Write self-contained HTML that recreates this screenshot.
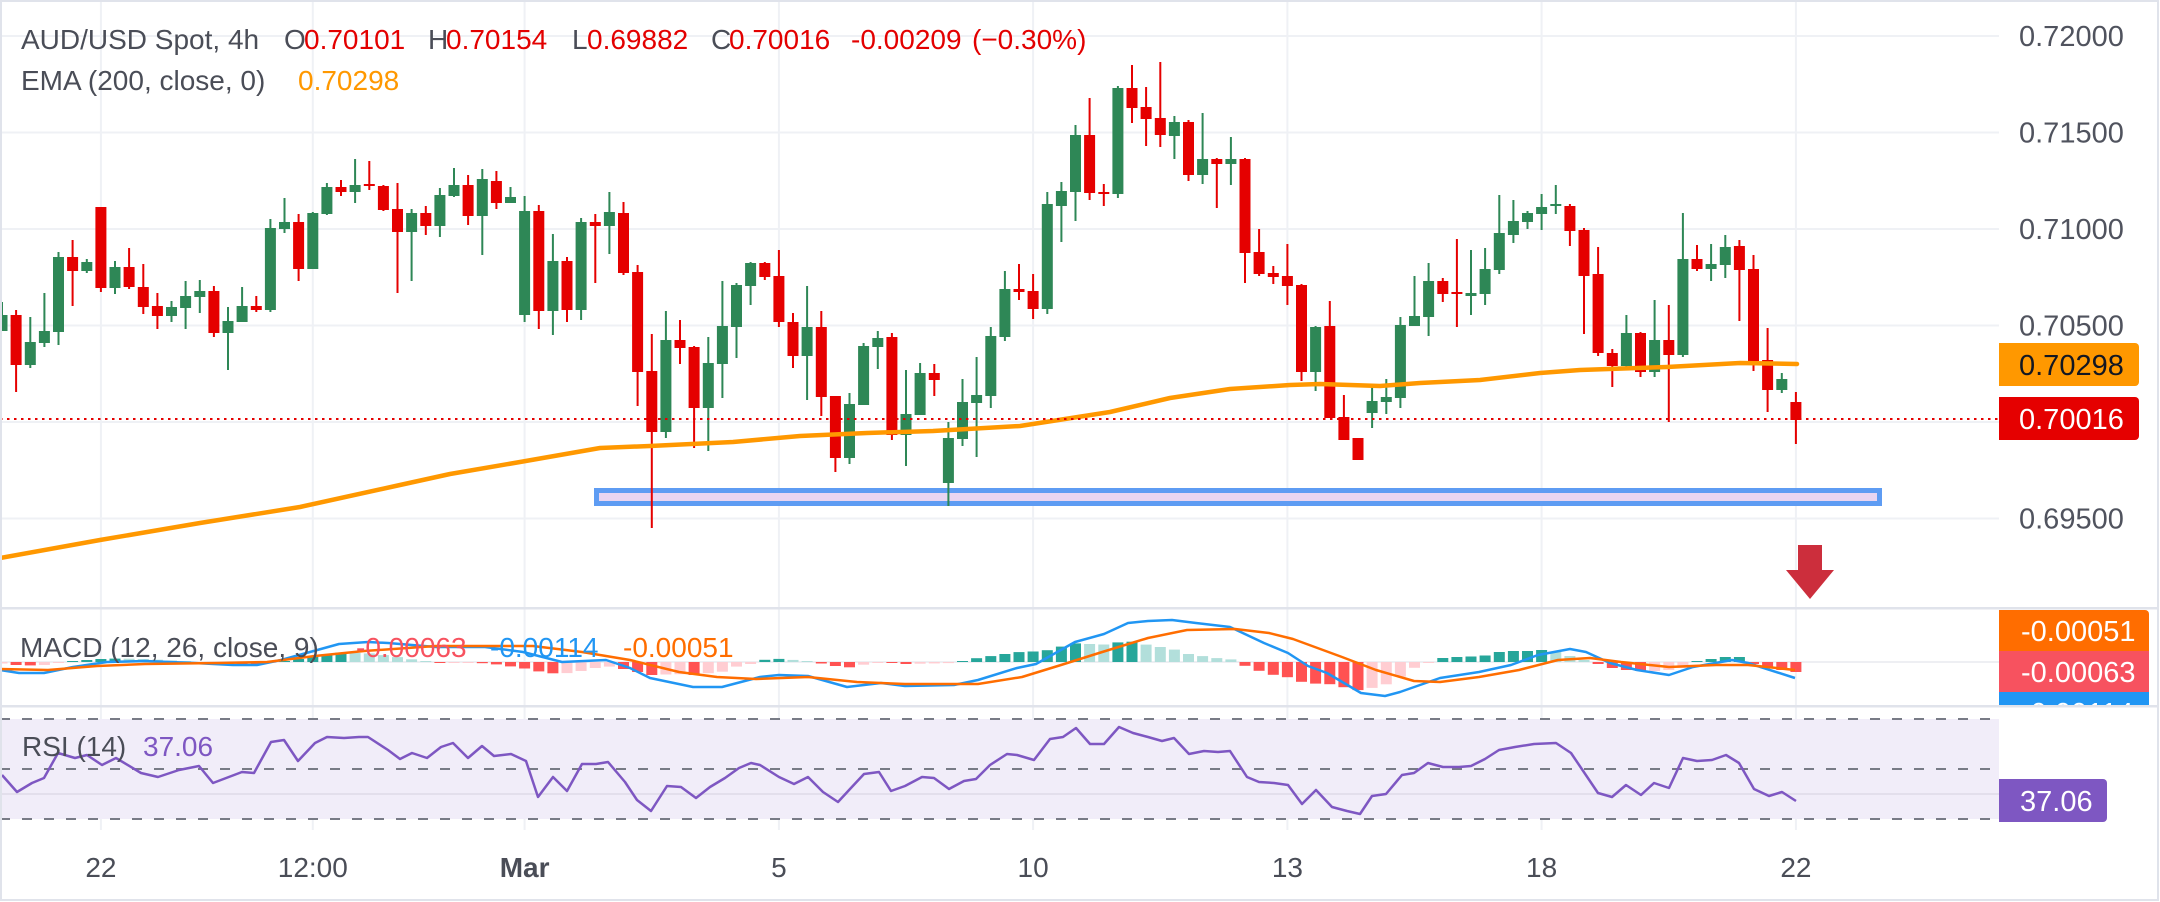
<!DOCTYPE html>
<html><head><meta charset="utf-8"><style>
html,body{margin:0;padding:0;background:#fff;overflow:hidden}
svg{display:block}
</style></head><body>
<svg width="2160" height="902" viewBox="0 0 2160 902" xmlns="http://www.w3.org/2000/svg" font-family="'Liberation Sans', Arial, sans-serif" font-size="28">
<defs>
<clipPath id="mainc"><rect x="0" y="2" width="1999" height="605"/></clipPath>
<clipPath id="macdc"><rect x="0" y="609" width="1999" height="96"/></clipPath>
<clipPath id="macdl"><rect x="1990" y="609" width="170" height="96"/></clipPath>
</defs>
<rect width="2160" height="902" fill="#fff"/>
<!-- vertical grid -->
<g stroke="#eff1f5" stroke-width="2">
<line x1="100.9" y1="2" x2="100.9" y2="830"/><line x1="312.8" y1="2" x2="312.8" y2="830"/><line x1="524.6" y1="2" x2="524.6" y2="830"/><line x1="778.9" y1="2" x2="778.9" y2="830"/><line x1="1033.1" y1="2" x2="1033.1" y2="830"/><line x1="1287.4" y1="2" x2="1287.4" y2="830"/><line x1="1541.6" y1="2" x2="1541.6" y2="830"/><line x1="1795.9" y1="2" x2="1795.9" y2="830"/>
</g>
<!-- horizontal grid main -->
<g stroke="#eff1f5" stroke-width="2">
<line x1="0" y1="36" x2="1999" y2="36"/><line x1="0" y1="132.5" x2="1999" y2="132.5"/><line x1="0" y1="229" x2="1999" y2="229"/><line x1="0" y1="325.5" x2="1999" y2="325.5"/><line x1="0" y1="422" x2="1999" y2="422"/><line x1="0" y1="518.5" x2="1999" y2="518.5"/>
</g>
<g clip-path="url(#mainc)">
<!-- support rectangle -->
<rect x="596.5" y="490.5" width="1283" height="13" fill="#e9d5f1" stroke="#5e9cf3" stroke-width="5"/>
<!-- red wicks -->
<path stroke="#e50000" stroke-width="2" fill="none" d="M16.1 310V392 M72.6 240V306 M100.9 207V292 M129.1 248V289 M143.3 264V314 M157.4 293V329 M213.9 286V337 M256.3 296V312 M298.6 214V281 M341 180V196 M369.3 161V190 M383.4 185V211 M397.5 183V293 M425.8 206V235 M468.1 175V225 M496.4 171V209 M538.8 205V329 M567 257V322 M595.3 214V283 M623.5 202V275 M637.6 265V406 M651.8 334V528 M680 320V364 M694.1 346V448 M764.8 262V280 M778.9 250V327 M793 313V368 M821.3 311V416 M835.4 396V472 M891.9 333V440 M934.3 364V396 M1019 264V300 M1033.1 274V319 M1089.6 98V200 M1103.8 184V206 M1132 65V123 M1146.1 87V146 M1160.3 62V147 M1188.5 120V181 M1216.8 158V208 M1245 158V283 M1259.1 229V276 M1273.3 266V284 M1287.4 244V305 M1301.5 284V381 M1329.8 301V418 M1343.9 395V440 M1358 438V460 M1442.8 278V302 M1456.9 239V327 M1569.9 204V246 M1584 228V334 M1598.1 247V356 M1612.3 349V387 M1640.5 332V377 M1668.8 305V422 M1697 245V271 M1739.4 240V321 M1753.5 255V371 M1767.6 328V412 M1795.9 392V444"/>
<!-- green wicks -->
<path stroke="#2e8756" stroke-width="2" fill="none" d="M2 302V331 M30.3 317V368 M44.4 293V347 M58.5 252V345 M86.8 259V273 M115 261V294 M171.5 301V322 M185.6 281V329 M199.8 280V313 M228 307V370 M242.1 287V322 M270.4 219V312 M284.5 198V233 M312.8 212V269 M326.9 183V215 M355.1 159V203 M411.6 209V281 M439.9 188V237 M454 168V197 M482.3 169V255 M510.5 187V203 M524.6 196V322 M552.9 234V335 M581.1 218V320 M609.4 192V254 M665.9 311V438 M708.3 337V451 M722.4 281V398 M736.5 283V358 M750.6 262V305 M807.1 286V400 M849.5 393V464 M863.6 343V405 M877.8 331V369 M906 370V466 M920.1 363V415 M948.4 422V506 M962.5 379V446 M976.6 357V457 M990.8 327V408 M1004.9 271V341 M1047.3 192V314 M1061.4 182V242 M1075.5 125V221 M1117.9 86V198 M1174.4 116V159 M1202.6 113V184 M1230.9 137V185 M1315.6 326V391 M1372.1 385V428 M1386.3 379V414 M1400.4 317V408 M1414.5 276V326 M1428.6 263V336 M1471 250V315 M1485.1 248V305 M1499.3 195V274 M1513.4 200V243 M1527.5 211V229 M1541.6 194V230 M1555.8 185V214 M1626.4 315V370 M1654.6 300V377 M1682.9 213V357 M1711.1 244V281 M1725.3 235V278 M1781.8 373V393"/>
<!-- red bodies -->
<g fill="#e50000">
<rect x="10.6" y="315" width="11" height="50"/><rect x="67.1" y="257" width="11" height="14"/><rect x="95.4" y="207" width="11" height="81"/><rect x="123.6" y="267" width="11" height="20"/><rect x="137.8" y="287" width="11" height="20"/><rect x="151.9" y="306" width="11" height="10"/><rect x="208.4" y="291" width="11" height="42"/><rect x="250.8" y="306" width="11" height="4"/><rect x="293.1" y="222" width="11" height="47"/><rect x="335.5" y="187" width="11" height="5"/><rect x="363.8" y="184" width="11" height="2"/><rect x="377.9" y="186" width="11" height="24"/><rect x="392" y="209" width="11" height="23"/><rect x="420.3" y="213" width="11" height="13"/><rect x="462.6" y="185" width="11" height="31"/><rect x="490.9" y="181" width="11" height="22"/><rect x="533.3" y="211" width="11" height="100"/><rect x="561.5" y="261" width="11" height="49"/><rect x="589.8" y="222" width="11" height="4"/><rect x="618" y="213" width="11" height="60"/><rect x="632.1" y="272" width="11" height="100"/><rect x="646.3" y="371" width="11" height="61"/><rect x="674.5" y="340" width="11" height="8"/><rect x="688.6" y="347" width="11" height="61"/><rect x="759.3" y="263" width="11" height="14"/><rect x="773.4" y="276" width="11" height="46"/><rect x="787.5" y="322" width="11" height="34"/><rect x="815.8" y="327" width="11" height="70"/><rect x="829.9" y="396" width="11" height="62"/><rect x="886.4" y="337" width="11" height="98"/><rect x="928.8" y="373" width="11" height="7"/><rect x="1013.5" y="289" width="11" height="3"/><rect x="1027.6" y="291" width="11" height="18"/><rect x="1084.1" y="135" width="11" height="58"/><rect x="1098.3" y="192" width="11" height="2"/><rect x="1126.5" y="88" width="11" height="20"/><rect x="1140.6" y="107" width="11" height="12"/><rect x="1154.8" y="118" width="11" height="17"/><rect x="1183" y="122" width="11" height="53"/><rect x="1211.3" y="159" width="11" height="5"/><rect x="1239.5" y="159" width="11" height="94"/><rect x="1253.6" y="252" width="11" height="22"/><rect x="1267.8" y="273" width="11" height="4"/><rect x="1281.9" y="276" width="11" height="10"/><rect x="1296" y="285" width="11" height="87"/><rect x="1324.3" y="326" width="11" height="92"/><rect x="1338.4" y="417" width="11" height="23"/><rect x="1352.5" y="438" width="11" height="22"/><rect x="1437.3" y="281" width="11" height="13"/><rect x="1451.4" y="292" width="11" height="2"/><rect x="1564.4" y="206" width="11" height="25"/><rect x="1578.5" y="230" width="11" height="46"/><rect x="1592.6" y="274" width="11" height="79"/><rect x="1606.8" y="353" width="11" height="13"/><rect x="1635" y="333" width="11" height="39"/><rect x="1663.3" y="340" width="11" height="15"/><rect x="1691.5" y="259" width="11" height="10"/><rect x="1733.9" y="246" width="11" height="24"/><rect x="1748" y="269" width="11" height="92"/><rect x="1762.1" y="360" width="11" height="30"/><rect x="1790.4" y="402" width="11" height="18"/>
</g>
<!-- green bodies -->
<g fill="#2e8756">
<rect x="-3.5" y="315" width="11" height="16"/><rect x="24.8" y="342" width="11" height="23"/><rect x="38.9" y="331" width="11" height="12"/><rect x="53" y="257" width="11" height="75"/><rect x="81.3" y="262" width="11" height="9"/><rect x="109.5" y="267" width="11" height="21"/><rect x="166" y="307" width="11" height="9"/><rect x="180.1" y="296" width="11" height="12"/><rect x="194.3" y="291" width="11" height="6"/><rect x="222.5" y="321" width="11" height="12"/><rect x="236.6" y="306" width="11" height="16"/><rect x="264.9" y="228" width="11" height="82"/><rect x="279" y="222" width="11" height="7"/><rect x="307.3" y="213" width="11" height="56"/><rect x="321.4" y="187" width="11" height="27"/><rect x="349.6" y="185" width="11" height="7"/><rect x="406.1" y="213" width="11" height="19"/><rect x="434.4" y="195" width="11" height="31"/><rect x="448.5" y="185" width="11" height="11"/><rect x="476.8" y="179" width="11" height="37"/><rect x="505" y="197" width="11" height="6"/><rect x="519.1" y="211" width="11" height="104"/><rect x="547.4" y="261" width="11" height="50"/><rect x="575.6" y="222" width="11" height="88"/><rect x="603.9" y="212" width="11" height="14"/><rect x="660.4" y="340" width="11" height="92"/><rect x="702.8" y="363" width="11" height="45"/><rect x="716.9" y="326" width="11" height="38"/><rect x="731" y="285" width="11" height="42"/><rect x="745.1" y="263" width="11" height="23"/><rect x="801.6" y="327" width="11" height="29"/><rect x="844" y="404" width="11" height="54"/><rect x="858.1" y="346" width="11" height="59"/><rect x="872.3" y="338" width="11" height="9"/><rect x="900.5" y="414" width="11" height="21"/><rect x="914.6" y="373" width="11" height="42"/><rect x="942.9" y="438" width="11" height="45"/><rect x="957" y="402" width="11" height="37"/><rect x="971.1" y="395" width="11" height="8"/><rect x="985.3" y="336" width="11" height="60"/><rect x="999.4" y="289" width="11" height="48"/><rect x="1041.8" y="204" width="11" height="105"/><rect x="1055.9" y="191" width="11" height="15"/><rect x="1070" y="135" width="11" height="57"/><rect x="1112.4" y="88" width="11" height="106"/><rect x="1168.9" y="122" width="11" height="14"/><rect x="1197.1" y="159" width="11" height="16"/><rect x="1225.4" y="159" width="11" height="5"/><rect x="1310.1" y="327" width="11" height="45"/><rect x="1366.6" y="401" width="11" height="12"/><rect x="1380.8" y="397" width="11" height="5"/><rect x="1394.9" y="325" width="11" height="73"/><rect x="1409" y="316" width="11" height="10"/><rect x="1423.1" y="281" width="11" height="36"/><rect x="1465.5" y="293" width="11" height="3"/><rect x="1479.6" y="269" width="11" height="25"/><rect x="1493.8" y="233" width="11" height="37"/><rect x="1507.9" y="221" width="11" height="14"/><rect x="1522" y="213" width="11" height="9"/><rect x="1536.1" y="207" width="11" height="7"/><rect x="1550.3" y="204" width="11" height="2"/><rect x="1620.9" y="333" width="11" height="33"/><rect x="1649.1" y="340" width="11" height="32"/><rect x="1677.4" y="259" width="11" height="96"/><rect x="1705.6" y="264" width="11" height="5"/><rect x="1719.8" y="247" width="11" height="18"/><rect x="1776.3" y="379" width="11" height="11"/>
</g>
<!-- EMA 200 -->
<polyline fill="none" stroke="#ff9800" stroke-width="4.5" stroke-linejoin="round" stroke-linecap="round" points="0,558 100,540 200,523 300,507 400,485 450,474 520,462 600,448 650,446 733,442 800,436 867,433 933,431 1020,426 1110,412 1170,398 1230,389 1290,385 1320,384 1380,386 1420,383 1480,380 1540,373 1580,370 1667,367 1740,363 1797,364"/>
<!-- last price dotted line -->
<line x1="0" y1="419" x2="1999" y2="419" stroke="#e50000" stroke-width="2" stroke-dasharray="2.5 4.5"/>
<!-- down arrow -->
<polygon points="1798,545 1822,545 1822,570 1834,570 1810,599 1786,570 1798,570" fill="#cc2e3c"/>
</g>

<!-- header legend -->
<g font-size="28">
<text x="21" y="49" fill="#4a4d57">AUD/USD Spot, 4h</text>
<text x="284" y="49" fill="#4a4d57">O</text><text x="304" y="49" fill="#e30000">0.70101</text>
<text x="428" y="49" fill="#4a4d57">H</text><text x="446" y="49" fill="#e30000">0.70154</text>
<text x="572" y="49" fill="#4a4d57">L</text><text x="587" y="49" fill="#e30000">0.69882</text>
<text x="711" y="49" fill="#4a4d57">C</text><text x="729" y="49" fill="#e30000">0.70016</text>
<text x="851" y="49" fill="#e30000">-0.00209</text><text x="972" y="49" fill="#e30000">(−0.30%)</text>
<text x="21" y="90" fill="#4a4d57">EMA (200, close, 0)</text><text x="298" y="90" fill="#ff9800">0.70298</text>
</g>

<!-- price axis labels -->
<g font-size="29" fill="#50535e">
<text x="2019" y="46">0.72000</text>
<text x="2019" y="142.5">0.71500</text>
<text x="2019" y="239">0.71000</text>
<text x="2019" y="335.5">0.70500</text>
<text x="2019" y="528.5">0.69500</text>
</g>
<path d="M1999 343H2135a4 4 0 0 1 4 4V382a4 4 0 0 1-4 4H1999Z" fill="#ff9800"/>
<text x="2019" y="375" font-size="29" fill="#131722">0.70298</text>
<path d="M1999 397H2135a4 4 0 0 1 4 4V436a4 4 0 0 1-4 4H1999Z" fill="#e50000"/>
<text x="2019" y="429" font-size="29" fill="#ffffff">0.70016</text>

<!-- pane separators -->
<rect x="0" y="607" width="2158" height="2.5" fill="#e0e3eb"/>
<rect x="0" y="705" width="2158" height="2.5" fill="#e0e3eb"/>

<!-- MACD pane -->
<line x1="0" y1="662" x2="1999" y2="662" stroke="#eeeff3" stroke-width="2"/>
<g clip-path="url(#macdc)">
<g fill="#26a69a">
<rect x="67.1" y="661" width="11" height="1"/><rect x="81.3" y="660" width="11" height="2"/><rect x="95.4" y="659" width="11" height="3"/><rect x="109.5" y="658.6" width="11" height="3.4"/><rect x="279" y="661" width="11" height="1"/><rect x="293.1" y="659" width="11" height="3"/><rect x="307.3" y="657" width="11" height="5"/><rect x="321.4" y="654.5" width="11" height="7.5"/><rect x="335.5" y="652.6" width="11" height="9.4"/><rect x="759.3" y="659.8" width="11" height="2.2"/><rect x="773.4" y="658.9" width="11" height="3.1"/><rect x="957" y="661" width="11" height="1"/><rect x="971.1" y="658.2" width="11" height="3.8"/><rect x="985.3" y="656.1" width="11" height="5.9"/><rect x="999.4" y="654" width="11" height="8"/><rect x="1013.5" y="652.1" width="11" height="9.9"/><rect x="1027.6" y="651.5" width="11" height="10.5"/><rect x="1041.8" y="650.2" width="11" height="11.8"/><rect x="1055.9" y="646.6" width="11" height="15.4"/><rect x="1070" y="643.4" width="11" height="18.6"/><rect x="1112.4" y="642.4" width="11" height="19.6"/><rect x="1126.5" y="641.7" width="11" height="20.3"/><rect x="1437.3" y="658" width="11" height="4"/><rect x="1451.4" y="657" width="11" height="5"/><rect x="1465.5" y="656.5" width="11" height="5.5"/><rect x="1479.6" y="655.5" width="11" height="6.5"/><rect x="1493.8" y="652" width="11" height="10"/><rect x="1507.9" y="651" width="11" height="11"/><rect x="1522" y="651" width="11" height="11"/><rect x="1536.1" y="650" width="11" height="12"/><rect x="1691.5" y="661" width="11" height="1"/><rect x="1705.6" y="659" width="11" height="3"/><rect x="1719.8" y="657" width="11" height="5"/><rect x="1733.9" y="657" width="11" height="5"/>
</g>
<g fill="#b2dfdb">
<rect x="123.6" y="658.7" width="11" height="3.3"/><rect x="137.8" y="659" width="11" height="3"/><rect x="151.9" y="659.7" width="11" height="2.3"/><rect x="166" y="660.5" width="11" height="1.5"/><rect x="180.1" y="661" width="11" height="1"/><rect x="349.6" y="653" width="11" height="9"/><rect x="363.8" y="653.4" width="11" height="8.6"/><rect x="377.9" y="655.1" width="11" height="6.9"/><rect x="392" y="657.1" width="11" height="4.9"/><rect x="406.1" y="659.3" width="11" height="2.7"/><rect x="420.3" y="661" width="11" height="1"/><rect x="787.5" y="659.9" width="11" height="2.1"/><rect x="801.6" y="661" width="11" height="1"/><rect x="1084.1" y="644" width="11" height="18"/><rect x="1098.3" y="644.5" width="11" height="17.5"/><rect x="1140.6" y="644.6" width="11" height="17.4"/><rect x="1154.8" y="647" width="11" height="15"/><rect x="1168.9" y="649.6" width="11" height="12.4"/><rect x="1183" y="654" width="11" height="8"/><rect x="1197.1" y="656.1" width="11" height="5.9"/><rect x="1211.3" y="658.1" width="11" height="3.9"/><rect x="1225.4" y="659.4" width="11" height="2.6"/><rect x="1550.3" y="652" width="11" height="10"/><rect x="1564.4" y="656" width="11" height="6"/><rect x="1578.5" y="660" width="11" height="2"/>
</g>
<g fill="#ff5252">
<rect x="10.6" y="662" width="11" height="3"/><rect x="24.8" y="662" width="11" height="3.4"/><rect x="194.3" y="662" width="11" height="1"/><rect x="208.4" y="662" width="11" height="1"/><rect x="222.5" y="662" width="11" height="2"/><rect x="236.6" y="662" width="11" height="2.5"/><rect x="250.8" y="662" width="11" height="2.8"/><rect x="434.4" y="662" width="11" height="1"/><rect x="476.8" y="662" width="11" height="1.2"/><rect x="490.9" y="662" width="11" height="2.4"/><rect x="505" y="662" width="11" height="4.4"/><rect x="519.1" y="662" width="11" height="6.5"/><rect x="533.3" y="662" width="11" height="9.4"/><rect x="547.4" y="662" width="11" height="11.3"/><rect x="618" y="662" width="11" height="7"/><rect x="632.1" y="662" width="11" height="10"/><rect x="646.3" y="662" width="11" height="13"/><rect x="688.6" y="662" width="11" height="13"/><rect x="815.8" y="662" width="11" height="1.5"/><rect x="829.9" y="662" width="11" height="4"/><rect x="844" y="662" width="11" height="5.3"/><rect x="886.4" y="662" width="11" height="1"/><rect x="900.5" y="662" width="11" height="2"/><rect x="1239.5" y="662" width="11" height="3.8"/><rect x="1253.6" y="662" width="11" height="8.8"/><rect x="1267.8" y="662" width="11" height="12.8"/><rect x="1281.9" y="662" width="11" height="15.2"/><rect x="1296" y="662" width="11" height="19.8"/><rect x="1310.1" y="662" width="11" height="21.6"/><rect x="1324.3" y="662" width="11" height="22.2"/><rect x="1338.4" y="662" width="11" height="25.2"/><rect x="1352.5" y="662" width="11" height="28.1"/><rect x="1592.6" y="662" width="11" height="2"/><rect x="1606.8" y="662" width="11" height="6"/><rect x="1620.9" y="662" width="11" height="8"/><rect x="1635" y="662" width="11" height="9"/><rect x="1748" y="662" width="11" height="2"/><rect x="1762.1" y="662" width="11" height="5"/><rect x="1776.3" y="662" width="11" height="8"/><rect x="1790.4" y="662" width="11" height="10"/>
</g>
<g fill="#ffcdd2">
<rect x="-3.5" y="662" width="11" height="1.5"/><rect x="38.9" y="662" width="11" height="3"/><rect x="53" y="662" width="11" height="1"/><rect x="264.9" y="662" width="11" height="1"/><rect x="448.5" y="662" width="11" height="1"/><rect x="462.6" y="662" width="11" height="1"/><rect x="561.5" y="662" width="11" height="11.1"/><rect x="575.6" y="662" width="11" height="9"/><rect x="589.8" y="662" width="11" height="6"/><rect x="603.9" y="662" width="11" height="4.6"/><rect x="660.4" y="662" width="11" height="12.5"/><rect x="674.5" y="662" width="11" height="12.2"/><rect x="702.8" y="662" width="11" height="11.2"/><rect x="716.9" y="662" width="11" height="9.7"/><rect x="731" y="662" width="11" height="4.6"/><rect x="745.1" y="662" width="11" height="2"/><rect x="858.1" y="662" width="11" height="2.7"/><rect x="872.3" y="662" width="11" height="1"/><rect x="914.6" y="662" width="11" height="1.7"/><rect x="928.8" y="662" width="11" height="1.4"/><rect x="942.9" y="662" width="11" height="1.1"/><rect x="1366.6" y="662" width="11" height="25.9"/><rect x="1380.8" y="662" width="11" height="22.3"/><rect x="1394.9" y="662" width="11" height="14.7"/><rect x="1409" y="662" width="11" height="5.8"/><rect x="1423.1" y="662" width="11" height="1"/><rect x="1649.1" y="662" width="11" height="9"/><rect x="1663.3" y="662" width="11" height="8"/><rect x="1677.4" y="662" width="11" height="6"/>
</g>
<polyline fill="none" stroke="#2196f3" stroke-width="2.5" stroke-linejoin="round" points="0,670 19,673 44,673 73,667 107,662 145,661 194,663 233,665 257,665 281,660 310,652 339,644 368,642 388,643 436,647 485,647 523,652 562,662 606,660 630,668 650,678 693,687 722,687 760,677 779,675 808,676 847,687 881,683 905,686 954,685 978,680 1017,668 1036,664 1075,642 1104,634 1128,623 1148,621 1172,620 1196,623 1230,627 1264,643 1288,653 1308,666 1327,673 1361,693 1385,696 1400,692 1440,678 1479,672 1511,665 1538,655 1570,649 1586,652 1610,663 1637,670 1669,675 1693,667 1732,660 1748,663 1795,678"/>
<polyline fill="none" stroke="#ff6d00" stroke-width="2.5" stroke-linejoin="round" points="0,669 48,670 97,666 145,664 218,663 267,662 315,656 364,651 436,646 485,646 533,646 582,652 630,660 679,672 717,677 756,679 808,677 857,682 905,684 978,684 1022,677 1061,665 1099,653 1148,638 1187,630 1235,629 1269,633 1293,639 1342,657 1376,670 1414,681 1440,682 1479,677 1519,670 1558,660 1590,658 1621,662 1669,667 1716,665 1748,665 1795,670"/>
</g>
<g font-size="28">
<text x="20" y="657" fill="#4a4d57">MACD (12, 26, close, 9)</text>
<text x="356" y="657" fill="#f7525f">-0.00063</text>
<text x="490" y="657" fill="#2196f3">-0.00114</text>
<text x="623" y="657" fill="#ff6d00">-0.00051</text>
</g>
<g clip-path="url(#macdl)">
<path d="M1999 610H2145a4 4 0 0 1 4 4V651H1999Z" fill="#ff6d00"/>
<rect x="1999" y="651" width="150" height="41" fill="#f7525f"/>
<path d="M1999 692H2149V729a4 4 0 0 1-4 4H1999Z" fill="#2196f3"/>
<g font-size="29" fill="#fff">
<text x="2021" y="641">-0.00051</text>
<text x="2021" y="682">-0.00063</text>
<text x="2021" y="723">-0.00114</text>
</g>
</g>

<!-- RSI pane -->
<rect x="0" y="719" width="1999" height="100" fill="#f1edf9"/>
<line x1="0" y1="794" x2="1999" y2="794" stroke="#e3dfec" stroke-width="2"/>
<g stroke="#787b86" stroke-width="2" stroke-dasharray="10 12">
<line x1="0" y1="719" x2="1999" y2="719"/>
<line x1="0" y1="769" x2="1999" y2="769"/>
<line x1="0" y1="819" x2="1999" y2="819"/>
</g>
<polyline fill="none" stroke="#7e57c2" stroke-width="2.5" stroke-linejoin="round" points="2,775 17,792 32,783 44,778 58,753 75,758 87,755 102,765 116,758 141,773 158,777 179,770 199,766 213,783 242,772 254,773 271,742 284,740 298,761 315,743 327,737 344,738 359,737 368,737 388,750 400,759 412,753 427,758 441,747 453,743 468,758 482,746 494,756 511,754 526,761 538,797 553,777 567,791 582,764 596,764 608,762 625,782 637,800 651,811 667,786 681,787 696,798 710,787 725,778 739,768 751,763 760,765 779,777 794,784 808,777 823,792 838,802 850,789 864,774 879,772 891,791 905,786 922,777 934,778 949,789 964,781 976,779 990,765 1007,754 1017,755 1034,760 1050,739 1063,737 1076,728 1090,744 1104,744 1119,727 1133,733 1148,737 1162,741 1174,738 1189,754 1204,751 1218,752 1230,751 1247,777 1259,782 1274,783 1288,785 1302,804 1316,790 1332,807 1347,811 1360,814 1372,796 1386,794 1402,775 1414,773 1428,763 1443,767 1459,767 1471,766 1485,759 1499,750 1515,747 1534,744 1556,743 1571,753 1598,793 1612,797 1626,785 1641,795 1654,783 1669,788 1683,758 1697,761 1712,760 1726,755 1739,763 1754,789 1769,796 1782,792 1796,801"/>
<g font-size="28">
<text x="22" y="756" fill="#4a4d57">RSI (14)</text>
<text x="143" y="756" fill="#7e57c2">37.06</text>
</g>
<path d="M1999 779H2103a4 4 0 0 1 4 4V818a4 4 0 0 1-4 4H1999Z" fill="#7e57c2"/>
<text x="2020" y="811" font-size="29" fill="#fff">37.06</text>

<!-- time axis -->
<g font-size="28" fill="#4a4d57" text-anchor="middle">
<text x="100.9" y="877">22</text>
<text x="312.8" y="877">12:00</text>
<text x="524.6" y="877" font-weight="bold">Mar</text>
<text x="778.9" y="877">5</text>
<text x="1033.1" y="877">10</text>
<text x="1287.4" y="877">13</text>
<text x="1541.6" y="877">18</text>
<text x="1795.9" y="877">22</text>
</g>

<!-- outer frame -->
<rect x="1" y="1" width="2157" height="899" fill="none" stroke="#e0e3eb" stroke-width="2"/>
</svg>
</body></html>
